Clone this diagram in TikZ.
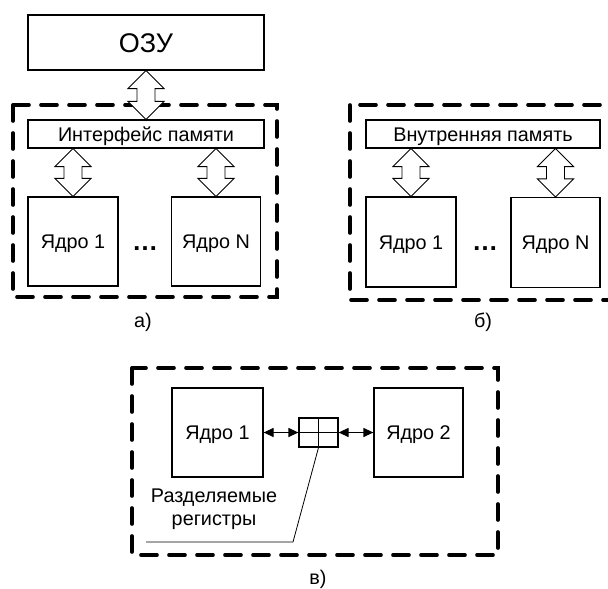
\documentclass[tikz,border=0pt]{standalone}
\usepackage{fontspec}
\setmainfont{Liberation Sans}
\usetikzlibrary{calc,arrows.meta}
\begin{document}
\begin{tikzpicture}[x=1pt,y=-1pt,
  font=\fontsize{19.8}{23.5}\selectfont,
  box/.style={draw, line width=1.2pt, inner sep=0pt, text height=14pt, text depth=0pt},
  frame/.style={draw, line width=3.6pt, line cap=round, dash pattern=on 16pt off 12pt},
  hollow/.style={draw, fill=white, line width=0.9pt, line join=miter,
    to path={let \p1=(\tikztostart), \p2=(\tikztotarget) in
      (\x1,\y1) -- (\x1+18pt,\y1-18pt) -- (\x1+9pt,\y1-18pt) -- (\x1+9pt,\y2+18pt)
      -- (\x1+18pt,\y2+18pt) -- (\x1,\y2) -- (\x1-18pt,\y2+18pt) -- (\x1-9pt,\y2+18pt)
      -- (\x1-9pt,\y1-18pt) -- (\x1-18pt,\y1-18pt) -- cycle}},
  tip/.style={line width=1.2pt, {Triangle[length=10pt,width=9pt]}-{Triangle[length=10pt,width=9pt]}},
  lbl/.style={inner sep=0pt, anchor=base},
  dots/.style={inner sep=0pt, font=\fontsize{26}{30}\bfseries}
]
\useasboundingbox (0,0) rectangle (608,589);
\clip (0,0) rectangle (608,589);

% ---------- a) ----------
\draw[frame] (13,105) rectangle (277,297);
\node[box, minimum width=236pt, minimum height=55pt, text height=19.5pt, font=\fontsize{27}{30}\selectfont] (ozu) at (146,42.5) {ОЗУ};
\node[box, minimum width=236pt, minimum height=28pt] (iface) at (146,134) {Интерфейс памяти};
\node[box, minimum width=90pt, minimum height=89pt] (a1) at (73,241.5) {Ядро 1};
\node[box, minimum width=89pt, minimum height=89pt] (aN) at (216,241.5) {Ядро N};
\node[dots, anchor=base] (adots) at (145,250) {…};
\draw[hollow] (ozu.south) to (iface.north);
\draw[hollow] (iface.south -| a1.north) to (a1.north);
\draw[hollow] (iface.south -| aN.north) to (aN.north);
\node[lbl] (la) at (143,327) {а)};

% ---------- б) ----------
\draw[frame] (350,105) rectangle (616,300);
\node[box, minimum width=234pt, minimum height=28pt] (mem) at (483,134) {Внутренняя память};
\node[box, minimum width=90pt, minimum height=90pt] (b1) at (411,242) {Ядро 1};
\node[box, minimum width=89pt, minimum height=90pt] (bN) at (555.5,242.5) {Ядро N};
\node[dots, anchor=base] (bdots) at (485,250) {…};
\draw[hollow] (mem.south -| b1.north) to (b1.north);
\draw[hollow] (mem.south -| bN.north) to (bN.north);
\node[lbl] (lb) at (483,327) {б)};

% ---------- в) ----------
\draw[frame] (132,368) rectangle (498,555);
\node[box, minimum width=91pt, minimum height=89pt] (c1) at (217.5,432.5) {Ядро 1};
\node[box, minimum width=89pt, minimum height=89pt] (c2) at (418.5,432.5) {Ядро 2};
\node[box, minimum width=39pt, minimum height=29pt] (reg) at (318.5,432.5) {};
\draw[line width=1.2pt] (reg.north) -- (reg.south) (reg.west) -- (reg.east);
\draw[tip] (c1.east) -- (reg.west);
\draw[tip] (reg.east) -- (c2.west);
\coordinate (bend) at (293,542);
\coordinate (lend) at (146,542);
\draw[line width=0.8pt] (reg.south) -- (bend) -- (lend);
\node[align=center, inner sep=0pt] (regtxt) at (214,509) {Разделяемые\\регистры};
\node[lbl] (lc) at (318,584) {в)};
\end{tikzpicture}
\end{document}
